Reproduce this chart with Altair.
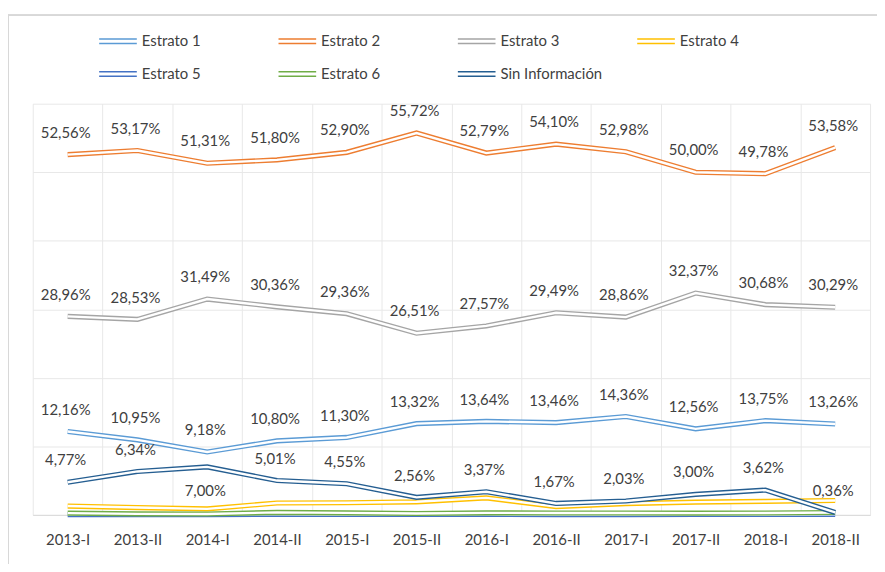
import altair as alt
import pandas as pd

periodos = ["2013-I", "2013-II", "2014-I", "2014-II", "2015-I", "2015-II",
            "2016-I", "2016-II", "2017-I", "2017-II", "2018-I", "2018-II"]
series = ["Estrato 1", "Estrato 2", "Estrato 3", "Estrato 4",
          "Estrato 5", "Estrato 6", "Sin Información"]
colores = ["#5B9BD5", "#ED7D31", "#A5A5A5", "#FFC000", "#4472C4", "#70AD47", "#255E91"]

estrato_1 = [12.16, 10.95, 9.18, 10.80, 11.30, 13.32, 13.64, 13.46, 14.36, 12.56, 13.75, 13.26]
estrato_2 = [52.56, 53.17, 51.31, 51.80, 52.90, 55.72, 52.79, 54.10, 52.98, 50.00, 49.78, 53.58]
estrato_3 = [28.96, 28.53, 31.49, 30.36, 29.36, 26.51, 27.57, 29.49, 28.86, 32.37, 30.68, 30.29]
estrato_4 = [1.29, 1.07, 0.87, 1.74, 1.77, 1.91, 2.49, 1.21, 1.64, 1.86, 1.98, 2.10]
estrato_5 = [0.05, 0.05, 0.05, 0.08, 0.06, 0.06, 0.07, 0.05, 0.05, 0.06, 0.06, 0.08]
estrato_6 = [0.25, 0.15, 0.13, 0.37, 0.30, 0.20, 0.30, 0.28, 0.28, 0.25, 0.28, 0.35]
sin_info = [4.77, 6.34, 7.00, 5.01, 4.55, 2.56, 3.37, 1.67, 2.03, 3.00, 3.62, 0.36]

valores = [estrato_1, estrato_2, estrato_3, estrato_4, estrato_5, estrato_6, sin_info]
series_etiquetadas = ["Estrato 1", "Estrato 2", "Estrato 3", "Sin Información"]
etiquetas_abajo = [("Sin Información", "2014-I")]

rows = []
for s, vals in zip(series, valores):
    for p, v in zip(periodos, vals):
        rows.append({
            "serie": s,
            "periodo": p,
            "valor": v,
            "etiqueta": f"{v:.2f}".replace(".", ",") + "%",
            "rotulo": s in series_etiquetadas,
            "abajo": (s, p) in etiquetas_abajo,
        })
df = pd.DataFrame(rows)

FONT = "Lato"
TXT = "#404040"

x_enc = alt.X(
    "periodo:N", sort=periodos, bandPosition=0.5,
    scale=alt.Scale(type="band", paddingInner=0, paddingOuter=0),
    axis=alt.Axis(title=None, labelAngle=0, grid=True, tickBand="extent", ticks=False,
                  gridColor="#E8E8E8", domainColor="#D9D9D9", domainWidth=1,
                  labelFont=FONT, labelFontSize=15, labelColor=TXT,
                  labelPadding=25, labelBaseline="middle"),
)
y_enc = alt.Y(
    "valor:Q", scale=alt.Scale(domain=[0, 60], nice=False),
    axis=alt.Axis(title=None, labels=False, ticks=False, domain=False,
                  values=[0, 10, 20, 30, 40, 50, 60], gridColor="#E8E8E8"),
)

# double-line legend symbol (two parallel strokes)
DOBLE = "M-1,-0.12L1,-0.12M-1,0.12L1,0.12"

color_enc = alt.Color(
    "serie:N", scale=alt.Scale(domain=series, range=colores),
    legend=alt.Legend(orient="none", legendX=66, legendY=-71, columns=4, title=None,
                      direction="horizontal", symbolType=DOBLE, symbolSize=1444,
                      symbolStrokeWidth=1.6, gridAlign="all", rowPadding=17, clipHeight=16,
                      padding=0, symbolOpacity=1, labelFont=FONT, labelFontSize=15,
                      labelColor=TXT, labelOffset=4, columnPadding=34),
)

base = alt.Chart(df)

borde = base.mark_rect(fill=None, stroke="#D9D9D9", strokeWidth=1).encode(
    x=alt.value(-24.5), x2=alt.value(900), y=alt.value(-89.5), y2=alt.value(600)
)

layers = [borde]
for s in series:
    sub = base.transform_filter(alt.datum.serie == s)
    layers.append(sub.mark_line(strokeWidth=5.2).encode(x=x_enc, y=y_enc, color=color_enc))
    layers.append(sub.mark_line(strokeWidth=2.4).encode(x=x_enc, y=y_enc, stroke=alt.value("#FFFFFF")))

lab = base.transform_filter(alt.datum.rotulo)
arriba = lab.transform_filter("!datum.abajo").mark_text(
    font=FONT, fontSize=15, color=TXT, dy=-22, dx=-2, baseline="middle"
).encode(x=x_enc, y=y_enc, text="etiqueta:N")
abajo = lab.transform_filter("datum.abajo").mark_text(
    font=FONT, fontSize=15, color=TXT, dy=24, dx=-2, baseline="middle"
).encode(x=x_enc, y=y_enc, text="etiqueta:N")
layers += [arriba, abajo]

chart = alt.layer(*layers).properties(
    width=845, height=415,
    autosize=alt.AutoSizeParams(type="none"),
    padding={"left": 25, "top": 94, "right": 7, "bottom": 47},
    background="white",
).configure_view(stroke=None)

chart.save("out.html", embed_options={"renderer": "svg", "actions": False})
